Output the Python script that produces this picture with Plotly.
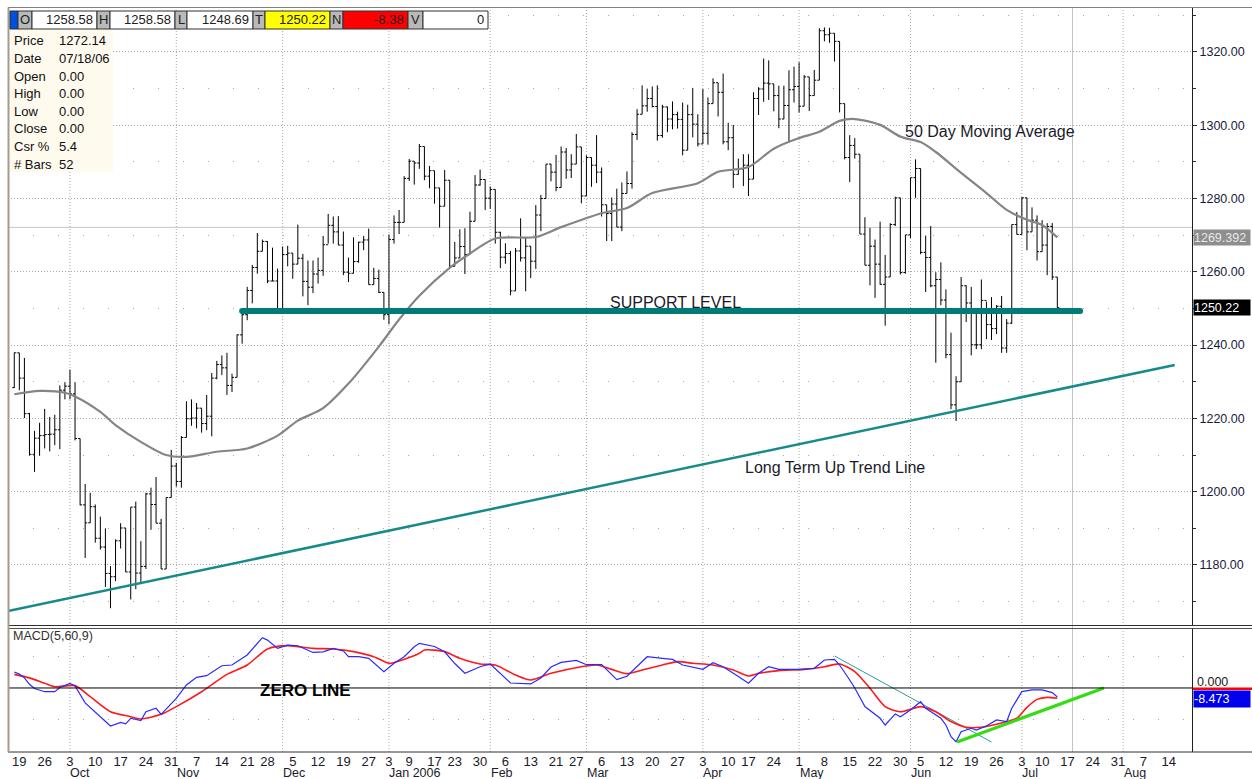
import plotly.graph_objects as go

# ---------------- DATA ----------------
OPEN = [1228.4, 1237.9, 1231.0, 1221.3, 1210.2, 1214.6, 1215.3, 1215.6, 1215.7, 1216.9,
        1227.7, 1228.8, 1226.7, 1214.5, 1196.4, 1191.5, 1195.9, 1187.3, 1184.9, 1177.7,
        1176.8, 1186.6, 1190.1, 1178.1, 1195.8, 1177.8, 1179.6, 1199.4, 1196.5, 1191.4,
        1178.9, 1198.4, 1207.0, 1202.8, 1214.8, 1219.9, 1220.1, 1222.8, 1218.6, 1220.6,
        1231.0, 1234.7, 1233.8, 1229.0, 1231.2, 1242.8, 1248.3, 1254.9, 1261.2, 1265.6,
        1268.3, 1257.5, 1257.5, 1249.5, 1264.7, 1265.1, 1262.1, 1263.7, 1257.4, 1255.8,
        1259.4, 1260.4, 1267.4, 1272.7, 1270.9, 1267.3, 1259.9, 1259.6, 1262.8, 1268.1,
        1268.7, 1256.5, 1258.2, 1254.4, 1248.3, 1268.8, 1273.5, 1273.5, 1285.5, 1290.2,
        1289.7, 1294.2, 1286.1, 1287.6, 1282.9, 1277.9, 1285.0, 1261.5, 1263.8, 1266.9,
        1264.7, 1273.8, 1283.7, 1285.2, 1280.1, 1282.5, 1270.8, 1264.0, 1265.0, 1254.8,
        1265.7, 1263.8, 1267.0, 1262.9, 1275.5, 1280.0, 1289.4, 1287.2, 1283.0, 1292.7,
        1287.8, 1289.4, 1294.1, 1280.7, 1291.2, 1289.1, 1287.2, 1278.3, 1275.9, 1278.5,
        1272.2, 1281.4, 1284.1, 1297.5, 1303.0, 1305.3, 1307.3, 1305.1, 1297.2, 1305.0,
        1301.7, 1302.9, 1301.6, 1293.2, 1302.9, 1300.3, 1294.9, 1297.8, 1305.9, 1311.6,
        1309.0, 1295.5, 1296.6, 1286.6, 1288.1, 1289.1, 1285.3, 1307.3, 1309.9, 1311.5,
        1311.3, 1308.1, 1301.7, 1305.4, 1309.7, 1310.6, 1305.2, 1313.2, 1308.1, 1312.3,
        1325.8, 1324.7, 1325.1, 1322.9, 1305.9, 1291.2, 1294.5, 1292.1, 1270.3, 1261.8,
        1267.0, 1262.1, 1256.6, 1258.6, 1272.9, 1280.2, 1259.8, 1270.1, 1285.7, 1288.2,
        1265.3, 1263.9, 1256.2, 1257.9, 1252.3, 1237.4, 1223.7, 1230.0, 1256.2, 1251.5,
        1240.1, 1240.1, 1252.2, 1245.6, 1244.5, 1250.6, 1239.2, 1246.0, 1272.9, 1270.2,
        1280.2, 1270.9, 1274.1, 1265.5, 1267.3, 1272.4, 1258.58]

HIGH = [1238.0, 1237.9, 1236.5, 1221.5, 1216.6, 1218.8, 1222.6, 1220.4, 1221.0, 1229.0,
        1229.9, 1233.3, 1229.9, 1214.5, 1202.1, 1199.7, 1196.5, 1193.2, 1190.0, 1179.7,
        1187.0, 1191.4, 1190.1, 1195.8, 1197.3, 1186.5, 1199.7, 1201.1, 1204.0, 1192.6,
        1198.4, 1211.4, 1207.9, 1215.2, 1224.7, 1225.2, 1224.2, 1222.8, 1226.4, 1232.4,
        1235.7, 1237.2, 1237.9, 1232.2, 1242.9, 1249.6, 1255.9, 1261.9, 1270.6, 1268.8,
        1268.4, 1266.6, 1260.9, 1266.9, 1267.1, 1265.1, 1272.9, 1264.9, 1263.1, 1263.1,
        1263.9, 1269.8, 1275.8, 1275.1, 1275.2, 1271.0, 1263.9, 1269.4, 1268.2, 1269.8,
        1271.8, 1261.1, 1260.6, 1254.4, 1270.2, 1275.4, 1276.9, 1286.1, 1290.8, 1290.2,
        1294.9, 1294.2, 1288.9, 1287.6, 1282.9, 1287.8, 1285.0, 1268.2, 1271.6, 1271.9,
        1276.4, 1286.4, 1287.9, 1285.2, 1283.3, 1282.5, 1270.9, 1267.8, 1265.7, 1266.5,
        1274.6, 1269.5, 1267.0, 1278.2, 1281.0, 1289.4, 1289.5, 1291.9, 1294.2, 1293.8,
        1292.1, 1297.6, 1294.1, 1291.8, 1291.2, 1297.3, 1288.5, 1278.3, 1280.3, 1282.7,
        1284.4, 1287.4, 1298.1, 1304.4, 1310.9, 1310.0, 1310.6, 1310.9, 1305.6, 1305.1,
        1306.5, 1303.7, 1306.2, 1305.6, 1310.2, 1303.0, 1309.9, 1307.6, 1312.8, 1311.6,
        1314.1, 1300.7, 1300.1, 1290.9, 1292.1, 1292.1, 1309.0, 1310.4, 1318.2, 1317.7,
        1311.3, 1310.8, 1310.8, 1315.0, 1316.0, 1317.2, 1313.7, 1313.2, 1315.1, 1326.5,
        1326.7, 1326.6, 1325.1, 1322.9, 1305.9, 1297.3, 1296.5, 1292.1, 1274.9, 1272.0,
        1268.8, 1273.7, 1264.6, 1273.3, 1280.5, 1280.2, 1270.1, 1285.7, 1290.7, 1288.2,
        1269.9, 1272.5, 1259.9, 1262.6, 1255.2, 1243.4, 1231.5, 1258.6, 1256.3, 1255.9,
        1249.0, 1257.9, 1251.9, 1253.1, 1250.9, 1253.4, 1247.1, 1272.9, 1276.3, 1280.4,
        1280.2, 1277.6, 1275.4, 1274.1, 1273.3, 1273.3, 1258.58]

LOW = [1228.3, 1227.7, 1220.1, 1209.8, 1205.4, 1209.8, 1211.8, 1211.0, 1212.7, 1211.6,
       1225.2, 1225.2, 1214.0, 1196.3, 1181.9, 1191.5, 1186.1, 1184.2, 1174.0, 1168.2,
       1175.6, 1184.5, 1178.1, 1170.6, 1173.4, 1174.9, 1178.9, 1189.6, 1191.4, 1178.9,
       1178.9, 1198.4, 1201.4, 1201.1, 1214.8, 1218.0, 1217.3, 1216.1, 1216.8, 1215.1,
       1230.7, 1231.8, 1226.4, 1227.2, 1231.2, 1240.4, 1246.8, 1251.4, 1259.5, 1265.6,
       1256.9, 1257.5, 1249.4, 1249.5, 1261.5, 1258.1, 1262.1, 1253.3, 1250.9, 1254.2,
       1256.8, 1258.9, 1267.7, 1267.7, 1267.3, 1259.1, 1257.2, 1259.6, 1262.5, 1265.9,
       1256.5, 1256.5, 1254.2, 1246.9, 1245.7, 1267.7, 1270.3, 1273.5, 1284.8, 1283.8,
       1288.1, 1285.0, 1282.8, 1278.6, 1272.1, 1277.9, 1260.9, 1261.5, 1263.8, 1259.4,
       1264.7, 1273.8, 1283.5, 1276.9, 1277.2, 1267.7, 1261.0, 1262.2, 1253.6, 1254.8,
       1262.8, 1254.7, 1258.3, 1260.8, 1271.1, 1280.0, 1284.7, 1282.0, 1283.0, 1285.4,
       1285.6, 1289.4, 1278.7, 1280.7, 1283.2, 1284.2, 1275.1, 1268.4, 1268.4, 1272.2,
       1271.1, 1281.4, 1282.7, 1296.0, 1303.0, 1303.7, 1304.9, 1295.8, 1296.6, 1298.1,
       1298.9, 1299.1, 1291.8, 1293.2, 1296.7, 1294.2, 1294.9, 1294.7, 1305.9, 1302.4,
       1294.8, 1293.2, 1282.9, 1286.5, 1283.4, 1280.7, 1285.3, 1302.8, 1306.4, 1306.9,
       1303.8, 1299.2, 1301.7, 1295.6, 1306.2, 1303.5, 1305.2, 1303.9, 1308.1, 1312.3,
       1322.9, 1322.5, 1317.4, 1303.5, 1290.7, 1284.5, 1290.9, 1270.3, 1261.8, 1256.3,
       1252.9, 1256.5, 1245.3, 1258.6, 1272.5, 1259.3, 1259.5, 1269.2, 1280.2, 1264.8,
       1254.5, 1255.8, 1235.2, 1250.9, 1236.4, 1222.5, 1219.3, 1230.0, 1246.3, 1237.2,
       1238.9, 1238.9, 1241.6, 1241.4, 1243.0, 1237.9, 1237.9, 1245.8, 1270.2, 1270.2,
       1265.9, 1270.9, 1263.1, 1265.5, 1259.1, 1257.8, 1248.69]

CLOSE = [1237.9, 1231.0, 1221.3, 1210.2, 1214.6, 1215.3, 1215.6, 1215.7, 1216.9, 1227.7,
         1228.8, 1226.7, 1214.5, 1196.4, 1191.5, 1195.9, 1187.3, 1184.9, 1177.7, 1176.8,
         1186.6, 1190.1, 1178.1, 1195.8, 1177.8, 1179.6, 1199.4, 1196.5, 1191.4, 1178.9,
         1198.4, 1207.0, 1202.8, 1214.8, 1219.9, 1220.1, 1222.8, 1218.6, 1220.6, 1231.0,
         1234.7, 1233.8, 1229.0, 1231.2, 1242.8, 1248.3, 1254.9, 1261.2, 1265.6, 1268.3,
         1257.5, 1257.5, 1249.5, 1264.7, 1265.1, 1262.1, 1263.7, 1257.4, 1255.8, 1259.4,
         1260.4, 1267.4, 1272.7, 1270.9, 1267.3, 1259.9, 1259.6, 1262.8, 1268.1, 1268.7,
         1256.5, 1258.2, 1254.4, 1248.3, 1268.8, 1273.5, 1273.5, 1285.5, 1290.2, 1289.7,
         1294.2, 1286.1, 1287.6, 1282.9, 1277.9, 1285.0, 1261.5, 1263.8, 1266.9, 1264.7,
         1273.8, 1283.7, 1285.2, 1280.1, 1282.5, 1270.8, 1264.0, 1265.0, 1254.8, 1265.7,
         1263.8, 1267.0, 1262.9, 1275.5, 1280.0, 1289.4, 1287.2, 1283.0, 1292.7, 1287.8,
         1289.4, 1294.1, 1280.7, 1291.2, 1289.1, 1287.2, 1278.3, 1275.9, 1278.5, 1272.2,
         1281.4, 1284.1, 1297.5, 1303.0, 1305.3, 1307.3, 1305.1, 1297.2, 1305.0, 1301.7,
         1302.9, 1301.6, 1293.2, 1302.9, 1300.3, 1294.9, 1297.8, 1305.9, 1311.6, 1309.0,
         1295.5, 1296.6, 1286.6, 1288.1, 1289.1, 1285.3, 1307.3, 1309.9, 1311.5, 1311.3,
         1308.1, 1301.7, 1305.4, 1309.7, 1310.6, 1305.2, 1313.2, 1308.1, 1312.3, 1325.8,
         1324.7, 1325.1, 1322.9, 1305.9, 1291.2, 1294.5, 1292.1, 1270.3, 1261.8, 1267.0,
         1262.1, 1256.6, 1258.6, 1272.9, 1280.2, 1259.8, 1270.1, 1285.7, 1288.2, 1265.3,
         1263.9, 1256.2, 1257.9, 1252.3, 1237.4, 1223.7, 1230.0, 1256.2, 1251.5, 1240.1,
         1240.1, 1252.2, 1245.6, 1244.5, 1250.6, 1239.2, 1246.0, 1272.9, 1270.2, 1280.2,
         1270.9, 1274.1, 1265.5, 1267.3, 1272.4, 1258.6, 1250.22]

# 50 day moving average (trading-day index, value)
MA50_IDX = [0, 5, 10, 12, 17, 20, 25, 30, 34, 40, 46, 52, 56, 61, 66, 72, 76, 80, 86, 90, 95,
            103, 108, 116, 121, 126, 135, 139, 145, 150, 155, 159, 163, 166, 171, 175, 179,
            182, 187, 192, 196, 200, 203, 206]
MA50_VAL = [1226.6, 1227.5, 1227.0, 1226.0, 1221.8, 1218.2, 1213.6, 1210.0, 1209.5, 1210.9,
            1211.8, 1215.3, 1219.4, 1222.8, 1229.5, 1239.6, 1247.0, 1253.5, 1261.1, 1265.0,
            1269.1, 1269.5, 1272.2, 1276.0, 1277.4, 1281.5, 1284.2, 1287.3, 1288.6, 1293.6,
            1296.5, 1298.2, 1301.2, 1301.7, 1300.1, 1296.9, 1295.4, 1292.7, 1287.0, 1281.5,
            1276.9, 1274.2, 1272.8, 1269.39]

# MACD(5,60,9) line (blue)
MACD_IDX = [0, 1, 2, 3, 4, 6, 8, 9, 11, 12, 14, 17, 19, 21, 22, 23, 25, 26, 28, 29, 31, 32,
            34, 36, 38, 41, 43, 46, 49, 50, 52, 54, 56, 59, 61, 63, 65, 66, 68, 70, 73, 75,
            77, 79, 80, 83, 85, 87, 89, 92, 94, 96, 98, 102, 104, 106, 108, 111, 113, 116,
            119, 121, 123, 125, 128, 130, 132, 136, 138, 140, 143, 145, 147, 149, 151, 155,
            158, 160, 162, 163, 165, 166, 168, 171, 172, 174, 175, 177, 179, 180, 183, 184,
            185, 186, 187, 189, 190, 192, 194, 196, 197, 199, 201, 203, 205, 206]
MACD_VAL = [15.0, 13.0, 9.5, 3.5, -0.5, -3.5, -3.5, 0.5, 4.3, 2.0, -14.0, -27.0, -35.7, -32.3,
            -33.8, -28.5, -30.7, -22.3, -19.1, -24.8, -14.4, -9.7, 2.8, 10.0, 11.6, 20.9, 21.6,
            31.0, 47.3, 45.0, 37.2, 40.3, 39.7, 33.4, 34.0, 37.2, 34.8, 29.4, 29.4, 27.9, 15.4,
            23.2, 29.4, 38.8, 42.0, 39.0, 34.0, 23.0, 13.8, 20.0, 22.6, 13.8, 4.7, 3.8, 9.4,
            19.7, 24.1, 26.0, 21.9, 21.9, 7.8, 11.0, 20.0, 29.4, 27.9, 26.9, 21.6, 17.5, 23.8,
            20.0, 10.7, 4.4, 13.8, 20.0, 17.5, 17.5, 18.5, 26.3, 26.9, 21.6, 7.5, 0.0, -17.5,
            -28.5, -34.8, -24.4, -27.0, -20.7, -12.9, -19.1, -28.5, -34.8, -45.8, -50.5, -41.1,
            -37.9, -39.5, -35.7, -30.1, -31.6, -19.1, -3.4, -1.8, -1.8, -4.4, -8.473]

# signal line (red)
SIGNAL_IDX = [0, 3, 6, 8, 12, 15, 19, 23, 25, 29, 32, 37, 42, 46, 50, 54, 59, 63, 67, 71, 74,
              76, 80, 81, 85, 88, 92, 95, 99, 102, 106, 112, 115, 118, 121, 124, 128, 131,
              134, 138, 142, 145, 147, 151, 156, 160, 163, 166, 169, 172, 175, 179, 182, 185,
              188, 191, 195, 198, 200, 202, 204, 206]
SIGNAL_VAL = [12.8, 9.5, 4.4, 1.2, 2.2, -8.2, -22.3, -27.0, -29.1, -24.8, -17.5, -3.5, 12.8,
              21.6, 36.7, 39.8, 37.2, 36.7, 34.2, 29.4, 23.2, 25.4, 32.6, 35.7, 34.2, 27.9, 22.6,
              21.6, 12.2, 7.5, 13.8, 20.0, 21.6, 17.5, 13.5, 16.9, 21.6, 24.8, 23.2, 21.6, 16.9,
              11.3, 13.8, 16.3, 17.5, 20.0, 22.6, 15.4, -0.3, -17.5, -22.3, -17.5, -22.3, -31.6,
              -36.9, -36.9, -33.0, -28.5, -18.2, -10.7, -8.8, -9.7]

# hand-drawn analysis lines
SUPPORT_LEVEL = 1249.3
SUPPORT_SPAN = [45, 210.5]
TREND_IDX = [-1.24, 229.2]
TREND_VAL = [1167.45, 1234.6]
MACD_DOWN_IDX = [162, 193]
MACD_DOWN_VAL = [30.1, -50.8]
MACD_UP_IDX = [186.2, 215.2]
MACD_UP_VAL = [-50.8, 0.0]

CURSOR_IDX = 209
CURSOR_PRICE = 1272.14
LAST_MA = 1269.392
LAST_PRICE = 1250.22
LAST_MACD = -8.473

WEEK_TICKS = [1, 6, 11, 16, 21, 26, 31, 36, 41, 46, 50, 55, 60, 65, 70, 74, 78, 83, 87, 92,
              97, 102, 107, 111, 116, 121, 126, 131, 136, 141, 145, 150, 155, 160, 165, 170,
              175, 179, 184, 189, 194, 199, 203, 208, 213, 218, 223, 228]
WEEK_LABELS = ["19", "26", "3", "10", "17", "24", "31", "7", "14", "21", "28", "5", "12", "19",
               "27", "3", "9", "17", "23", "30", "6", "13", "21", "27", "6", "13", "20", "27",
               "3", "10", "17", "24", "1", "8", "15", "22", "30", "5", "12", "19", "26", "3",
               "10", "17", "24", "31", "7", "14"]
MONTH_STARTS = [11, 32, 53, 74, 94, 113, 136, 155, 177, 199, 219]
MONTH_NAMES = ["Oct", "Nov", "Dec", "Jan 2006", "Feb", "Mar", "Apr", "May", "Jun", "Jul", "Aug"]

HEADER_LABELS = ["O", "H", "L", "T", "N", "V"]
HEADER_VALUES = ["1258.58", "1258.58", "1248.69", "1250.22", "-8.38", "0"]
HEADER_COLORS = ["#ffffff", "#ffffff", "#ffffff", "#ffff00", "#ff0000", "#ffffff"]
INFO_LABELS = ["Price", "Date", "Open", "High", "Low", "Close", "Csr %", "# Bars"]
INFO_VALUES = ["1272.14", "07/18/06", "0.00", "0.00", "0.00", "0.00", "5.4", "52"]

# ---------------- LAYOUT HELPERS ----------------
W, H = 1252, 779
ML, MR, MT, MB = 8, 60, 8, 27
PW = W - ML - MR
PH = H - MT - MB
FONT = "Liberation Sans, Arial, sans-serif"


def fx(px):
    return (px - ML) / PW


def fy(py):
    return (H - MB - py) / PH


XR = [-1.24, 232.6]
fig = go.Figure()
IDX = list(range(len(CLOSE)))

fig.add_trace(go.Scatter(x=MA50_IDX, y=MA50_VAL, mode="lines", xaxis="x", yaxis="y",
                         line=dict(color="#858585", width=2.2, shape="spline", smoothing=0.8),
                         hoverinfo="skip"))
fig.add_trace(go.Ohlc(x=IDX, open=OPEN, high=HIGH, low=LOW, close=CLOSE, xaxis="x", yaxis="y",
                      increasing=dict(line=dict(color="black", width=1)),
                      decreasing=dict(line=dict(color="black", width=1)),
                      tickwidth=0.4, hoverinfo="skip"))
fig.add_trace(go.Scatter(x=SUPPORT_SPAN, y=[SUPPORT_LEVEL, SUPPORT_LEVEL], mode="lines",
                         xaxis="x", yaxis="y", line=dict(color="#007b76", width=6),
                         hoverinfo="skip"))
fig.add_trace(go.Scatter(x=[SUPPORT_SPAN[0], SUPPORT_SPAN[1]], y=[SUPPORT_LEVEL, SUPPORT_LEVEL],
                         mode="markers", xaxis="x", yaxis="y",
                         marker=dict(color="#007b76", size=6), hoverinfo="skip"))
fig.add_trace(go.Scatter(x=TREND_IDX, y=TREND_VAL, mode="lines", xaxis="x", yaxis="y",
                         line=dict(color="#178a8a", width=2.5), hoverinfo="skip"))

fig.add_trace(go.Scatter(x=MACD_DOWN_IDX, y=MACD_DOWN_VAL, mode="lines", xaxis="x2", yaxis="y2",
                         line=dict(color="#2e9a9a", width=1), hoverinfo="skip"))
fig.add_trace(go.Scatter(x=SIGNAL_IDX, y=SIGNAL_VAL, mode="lines", xaxis="x2", yaxis="y2",
                         line=dict(color="#ff1a1a", width=1.6, shape="spline", smoothing=0.7),
                         hoverinfo="skip"))
fig.add_trace(go.Scatter(x=MACD_IDX, y=MACD_VAL, mode="lines", xaxis="x2", yaxis="y2",
                         line=dict(color="#2a2aff", width=1.2), hoverinfo="skip"))
fig.add_trace(go.Scatter(x=MACD_UP_IDX, y=MACD_UP_VAL, mode="lines", xaxis="x2", yaxis="y2",
                         line=dict(color="#33dd11", width=3.2), hoverinfo="skip"))

shapes = []
for m in MONTH_STARTS:
    shapes.append(dict(type="line", xref="x", yref="paper", x0=m, x1=m, y0=0, y1=1,
                       line=dict(color="#a8a8a8", width=1, dash="1px,2px"), layer="below"))
shapes.append(dict(type="line", xref="x", yref="paper", x0=CURSOR_IDX, x1=CURSOR_IDX, y0=0, y1=1,
                   line=dict(color="#c4c4c4", width=1), layer="below"))
shapes.append(dict(type="line", xref="paper", yref="y", x0=0, x1=1, y0=CURSOR_PRICE,
                   y1=CURSOR_PRICE, line=dict(color="#c4c4c4", width=1), layer="below"))
shapes.append(dict(type="line", xref="paper", yref="y2", x0=0, x1=1, y0=0, y1=0,
                   line=dict(color="black", width=1)))
# panel borders
shapes.append(dict(type="line", xref="paper", yref="paper", x0=0, x1=fx(W), y0=fy(625.5),
                   y1=fy(625.5), line=dict(color="#303030", width=1)))
shapes.append(dict(type="line", xref="paper", yref="paper", x0=0, x1=fx(W), y0=fy(628.5),
                   y1=fy(628.5), line=dict(color="#505050", width=1)))
shapes.append(dict(type="line", xref="paper", yref="paper", x0=0, x1=fx(W), y0=fy(7.5),
                   y1=fy(7.5), line=dict(color="#808080", width=1)))
shapes.append(dict(type="line", xref="paper", yref="paper", x0=0, x1=fx(W), y0=fy(752),
                   y1=fy(752), line=dict(color="#303030", width=1)))
shapes.append(dict(type="line", xref="paper", yref="paper", x0=fx(8.5), x1=fx(8.5), y0=fy(7.5),
                   y1=fy(752), line=dict(color="#a39c8c", width=2)))

# header strip
shapes.append(dict(type="rect", xref="paper", yref="paper", x0=fx(10), x1=fx(18), y0=fy(29),
                   y1=fy(11), fillcolor="#0050e0", line=dict(color="#303030", width=1)))
edges = [18, 32, 97, 110, 175, 187, 253, 265, 330, 343, 408, 423, 488]
annotations = []
for k in range(6):
    lx0, lx1, vx1 = edges[2 * k], edges[2 * k + 1], edges[2 * k + 2]
    shapes.append(dict(type="rect", xref="paper", yref="paper", x0=fx(lx0), x1=fx(lx1),
                       y0=fy(29), y1=fy(11), fillcolor="#b9b9b9",
                       line=dict(color="#303030", width=1)))
    shapes.append(dict(type="rect", xref="paper", yref="paper", x0=fx(lx1), x1=fx(vx1),
                       y0=fy(29), y1=fy(11), fillcolor=HEADER_COLORS[k],
                       line=dict(color="#303030", width=1)))
    annotations.append(dict(xref="paper", yref="paper", x=fx((lx0 + lx1) / 2), y=fy(20),
                            text=HEADER_LABELS[k], showarrow=False, xanchor="center",
                            yanchor="middle", font=dict(family=FONT, size=13, color="#202020")))
    annotations.append(dict(xref="paper", yref="paper", x=fx(vx1 - 2), y=fy(20),
                            text=HEADER_VALUES[k], showarrow=False, xanchor="right",
                            yanchor="middle", font=dict(family=FONT, size=13, color="#202020")))

# info box
shapes.append(dict(type="rect", xref="paper", yref="paper", x0=fx(10), x1=fx(113), y0=fy(172),
                   y1=fy(30), fillcolor="#fffaee", line=dict(width=0)))
for k, (lab, val) in enumerate(zip(INFO_LABELS, INFO_VALUES)):
    yy = 41 + k * 17.6
    annotations.append(dict(xref="paper", yref="paper", x=fx(12), y=fy(yy), text=lab,
                            showarrow=False, xanchor="left", yanchor="middle",
                            font=dict(family=FONT, size=13, color="#101010")))
    annotations.append(dict(xref="paper", yref="paper", x=fx(57), y=fy(yy), text=val,
                            showarrow=False, xanchor="left", yanchor="middle",
                            font=dict(family=FONT, size=13, color="#101010")))

# right-side value boxes
annotations.append(dict(xref="paper", yref="y", x=fx(1193), y=LAST_MA, text="1269.392",
                        showarrow=False, xanchor="left", yanchor="middle", align="left",
                        width=56, height=15, bgcolor="#8e8e8e", borderpad=0,
                        font=dict(family=FONT, size=12.5, color="#e8e8e8")))
annotations.append(dict(xref="paper", yref="y", x=fx(1193), y=LAST_PRICE, text="1250.22",
                        showarrow=False, xanchor="left", yanchor="middle", align="left",
                        width=56, height=15, bgcolor="#000000", borderpad=0,
                        font=dict(family=FONT, size=12.5, color="#ffffff")))
shapes.append(dict(type="rect", xref="paper", yref="paper", x0=fx(1193), x1=fx(W), y0=fy(690),
                   y1=fy(687.5), fillcolor="#ff0000", line=dict(width=0)))
annotations.append(dict(xref="paper", yref="y2", x=fx(1195), y=0, text="0.000",
                        showarrow=False, xanchor="left", yanchor="bottom", yshift=-3,
                        font=dict(family=FONT, size=12.5, color="#202020")))
annotations.append(dict(xref="paper", yref="y2", x=fx(1193), y=LAST_MACD, text="-8.473",
                        showarrow=False, xanchor="left", yanchor="middle", align="left",
                        width=56, height=16, bgcolor="#0000ee", borderpad=0, yshift=-2,
                        font=dict(family=FONT, size=12.5, color="#ffffff")))

# chart notes
annotations.append(dict(xref="paper", yref="paper", x=fx(675), y=fy(302), text="SUPPORT LEVEL",
                        showarrow=False, xanchor="center", yanchor="middle",
                        font=dict(family=FONT, size=16, color="#1a1a2a")))
annotations.append(dict(xref="paper", yref="paper", x=fx(990), y=fy(132),
                        text="50 Day Moving Average", showarrow=False, xanchor="center",
                        yanchor="middle", font=dict(family=FONT, size=16, color="#1a1a2a")))
annotations.append(dict(xref="paper", yref="paper", x=fx(835), y=fy(467),
                        text="Long Term Up Trend Line", showarrow=False, xanchor="center",
                        yanchor="middle", font=dict(family=FONT, size=16, color="#1a1a2a")))
annotations.append(dict(xref="paper", yref="paper", x=fx(11), y=fy(636), text="MACD(5,60,9)",
                        showarrow=False, xanchor="left", yanchor="middle",
                        font=dict(family=FONT, size=12.5, color="#303030")))
annotations.append(dict(xref="paper", yref="paper", x=fx(305), y=fy(690), text="<b>ZERO LINE</b>",
                        showarrow=False, xanchor="center", yanchor="middle",
                        font=dict(family="Liberation Sans Narrow, Liberation Sans, Arial",
                                  size=17, color="#000000")))
for m, name in zip(MONTH_STARTS, MONTH_NAMES):
    annotations.append(dict(xref="x2", yref="paper", x=m - 0.1, y=fy(773.5), text=name,
                            showarrow=False, xanchor="left", yanchor="middle", borderpad=0,
                            font=dict(family=FONT, size=12.5, color="#1a1a2a")))

fig.update_layout(
    width=W, height=H,
    margin=dict(l=ML, r=MR, t=MT, b=MB),
    paper_bgcolor="white", plot_bgcolor="white",
    showlegend=False, hovermode=False,
    xaxis=dict(domain=[0, 1], range=XR, anchor="y", showticklabels=False, showgrid=False,
               zeroline=False, rangeslider=dict(visible=False), fixedrange=True),
    xaxis2=dict(domain=[0, 1], range=XR, anchor="y2", matches="x", tickmode="array",
                tickvals=WEEK_TICKS, ticktext=WEEK_LABELS, ticks="", showgrid=False,
                zeroline=False, showline=False,
                tickfont=dict(family=FONT, size=13, color="#1a1a2a")),
    yaxis=dict(domain=[fy(626), 1], range=[1163.35, 1332.0], side="right", anchor="x",
               tickmode="linear", tick0=0, dtick=20, tickformat=".2f",
               showgrid=True, gridcolor="#a8a8a8", griddash="1px,2px", gridwidth=1,
               minor=dict(dtick=10, tick0=0, showgrid=True, gridcolor="#a8a8a8",
                          griddash="1px,24px", ticks="outside", ticklen=3, tickcolor="#303030"),
               ticks="outside", ticklen=4, tickcolor="#303030",
               showline=True, linecolor="#202020", linewidth=1, zeroline=False,
               tickfont=dict(family=FONT, size=12.5, color="#1a1a3a")),
    yaxis2=dict(domain=[0, fy(628)], range=[-60.2, 56.4], side="right", anchor="x2",
                tickmode="array", tickvals=[-30, 30], showticklabels=False,
                showgrid=True, gridcolor="#a8a8a8", griddash="1px,24px",
                ticks="", showline=True, linecolor="#202020", linewidth=1, zeroline=False),
    shapes=shapes,
    annotations=annotations,
)

fig.write_html("out.html", config={"displayModeBar": False},
               post_script="document.body.style.margin='0';document.body.style.overflow='hidden';")
